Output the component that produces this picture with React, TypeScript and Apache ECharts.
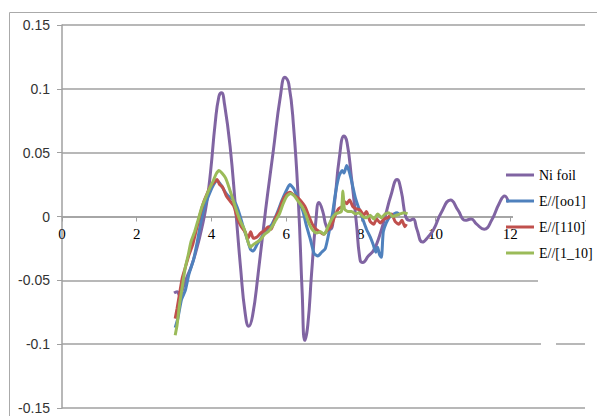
import React, { useEffect, useRef } from "react";
import * as echarts from "echarts";

const seriesNames = ["Ni foil", "E//[oo1]", "E//[110]", "E//[1_10]"];
const seriesColors = ["#8064A2", "#4F81BD", "#C0504D", "#9BBB59"];

const niK = [3.0, 3.08, 3.15, 3.25, 3.35, 3.45, 3.6, 3.75, 3.88, 3.98, 4.1, 4.2, 4.27, 4.35, 4.5, 4.65, 4.78, 4.9, 5.0, 5.1, 5.25, 5.45, 5.65, 5.85, 5.97, 6.07, 6.2, 6.33, 6.43, 6.5, 6.58, 6.68, 6.8, 6.88, 6.98, 7.08, 7.18, 7.3, 7.42, 7.55, 7.63, 7.75, 7.88, 7.98, 8.05, 8.2, 8.35, 8.5, 8.65, 8.8, 8.97, 9.08, 9.2, 9.3, 9.4, 9.5, 9.65, 9.8, 9.95, 10.15, 10.4, 10.6, 10.8, 10.95, 11.1, 11.3, 11.5, 11.7, 11.85, 11.95];
const niChi = [-0.06, -0.059, -0.062, -0.055, -0.047, -0.04, -0.026, -0.008, 0.012, 0.036, 0.073, 0.094, 0.097, 0.088, 0.055, 0.005, -0.04, -0.075, -0.086, -0.078, -0.045, 0.005, 0.05, 0.095, 0.109, 0.104, 0.07, 0.01, -0.06, -0.097, -0.085, -0.045, -0.002, 0.011, 0.004, -0.008, -0.01, 0.012, 0.045, 0.063, 0.058, 0.03, -0.005, -0.034, -0.036, -0.031, -0.026, -0.015, 0.0, 0.016, 0.029, 0.02, 0.0, -0.003, -0.002, -0.01, -0.02, -0.016, -0.01, 0.003, 0.013, 0.005, -0.003, -0.002, -0.006, -0.01, -0.003, 0.01, 0.016, 0.011];

const oo1K = [3.03, 3.1, 3.2, 3.3, 3.4, 3.52, 3.62, 3.72, 3.82, 3.95, 4.06, 4.15, 4.25, 4.35, 4.45, 4.55, 4.65, 4.75, 4.85, 4.95, 5.05, 5.12, 5.22, 5.35, 5.5, 5.62, 5.75, 5.88, 6.0, 6.1, 6.2, 6.32, 6.45, 6.55, 6.65, 6.75, 6.85, 6.95, 7.05, 7.15, 7.25, 7.33, 7.42, 7.5, 7.55, 7.62, 7.68, 7.75, 7.85, 7.95, 8.05, 8.15, 8.25, 8.33, 8.4, 8.45, 8.5, 8.55, 8.6, 8.68, 8.78, 8.88, 8.97, 9.05];
const oo1Chi = [-0.087, -0.08, -0.065, -0.058, -0.045, -0.034, -0.02, -0.004, 0.008, 0.018, 0.025, 0.028, 0.025, 0.02, 0.016, 0.014, 0.01, 0.002, -0.008, -0.017, -0.026, -0.027, -0.022, -0.016, -0.01, -0.006, 0.002, 0.012, 0.02, 0.025, 0.022, 0.014, 0.004, -0.008, -0.018, -0.029, -0.031, -0.028, -0.025, -0.012, 0.004, 0.02, 0.032, 0.036, 0.034, 0.04, 0.036, 0.028, 0.015, 0.006, -0.002, -0.01, -0.016, -0.022, -0.028, -0.024, -0.03, -0.032, -0.012, -0.005, 0.0, 0.002, 0.003, 0.001];

const k110K = [3.03, 3.08, 3.15, 3.22, 3.3, 3.4, 3.5, 3.6, 3.7, 3.8, 3.9, 3.98, 4.08, 4.15, 4.22, 4.3, 4.4, 4.5, 4.6, 4.7, 4.8, 4.9, 4.98, 5.05, 5.12, 5.22, 5.32, 5.42, 5.52, 5.6, 5.7, 5.8, 5.9, 6.0, 6.1, 6.2, 6.3, 6.4, 6.5, 6.6, 6.7, 6.8, 6.9, 7.0, 7.1, 7.2, 7.3, 7.4, 7.5, 7.55, 7.62, 7.7, 7.78, 7.88, 7.98, 8.08, 8.15, 8.25, 8.35, 8.42, 8.52, 8.62, 8.72, 8.82, 8.92, 9.02, 9.1, 9.18, 9.22];
const k110Chi = [-0.08, -0.072, -0.06, -0.048, -0.04, -0.03, -0.022, -0.01, 0.002, 0.012, 0.019, 0.024, 0.027, 0.029, 0.025, 0.023, 0.016, 0.012, 0.008, -0.002, -0.008, -0.012, -0.017, -0.012, -0.017, -0.016, -0.013, -0.011, -0.008, -0.01, -0.002, 0.004, 0.012, 0.017, 0.019, 0.017, 0.015, 0.012, 0.008, 0.001, -0.006, -0.01, -0.012, -0.014, -0.011, -0.008, 0.0, 0.006, 0.008, 0.012, 0.01, 0.013, 0.008, 0.006, 0.005, 0.001, 0.004, -0.004, -0.006, -0.002, -0.005, -0.002, -0.001, 0.002, -0.004, -0.006, -0.003, -0.008, -0.006];

const k1m10K = [3.03, 3.08, 3.15, 3.22, 3.3, 3.38, 3.45, 3.55, 3.65, 3.75, 3.85, 3.95, 4.05, 4.12, 4.2, 4.28, 4.38, 4.48, 4.58, 4.68, 4.78, 4.88, 4.96, 5.04, 5.12, 5.22, 5.32, 5.42, 5.52, 5.62, 5.72, 5.82, 5.92, 6.02, 6.12, 6.22, 6.32, 6.42, 6.52, 6.62, 6.72, 6.82, 6.92, 7.02, 7.12, 7.22, 7.32, 7.42, 7.48, 7.52, 7.56, 7.65, 7.75, 7.85, 7.95, 8.05, 8.15, 8.25, 8.35, 8.45, 8.55, 8.65, 8.75, 8.85, 8.95, 9.05, 9.15, 9.25];
const k1m10Chi = [-0.093, -0.085, -0.068, -0.055, -0.04, -0.03, -0.02, -0.012, -0.002, 0.008, 0.015, 0.022, 0.028, 0.033, 0.036, 0.034, 0.03, 0.022, 0.013, 0.004, -0.004, -0.01, -0.018, -0.024, -0.022, -0.02, -0.018, -0.014, -0.012, -0.008, -0.003, 0.002, 0.01, 0.016, 0.018, 0.016, 0.012, 0.008, 0.002, -0.006, -0.011, -0.013, -0.012, -0.014, -0.008, -0.002, 0.002, 0.003, 0.004, 0.02, 0.006, 0.004, 0.004, 0.002, 0.003, 0.0, -0.001, 0.001, -0.002, 0.002, -0.001, 0.002, 0.003, 0.0, 0.001, 0.002, 0.003, 0.002];

const xTicks = [0, 2, 4, 6, 8, 10, 12];

function zip(xs: number[], ys: number[]) {
  return xs.map((x, i) => [x, ys[i]]);
}

export default function App() {
  const ref = useRef<HTMLDivElement>(null);
  useEffect(() => {
    if (!ref.current) return;
    const chart = echarts.init(ref.current, undefined, { renderer: "svg" });
    const allData = [zip(niK, niChi), zip(oo1K, oo1Chi), zip(k110K, k110Chi), zip(k1m10K, k1m10Chi)];
    const gridColor = "#a0a0a0";
    const gridTop = 25;
    const gridBottom = 8;
    const plotH = 416 - gridTop - gridBottom;
    const yMin = -0.15;
    const yMax = 0.15;
    // place the x axis where y = 0 (half way down the plot)
    const zeroOffset = -plotH * (0 - yMin) / (yMax - yMin);
    chart.setOption({
      animation: false,
      backgroundColor: "#ffffff",
      grid: { left: 62, right: 12, top: gridTop, bottom: gridBottom, containLabel: false, outerBoundsMode: "none" },
      xAxis: {
        type: "value",
        min: 0,
        max: 14,
        interval: 2,
        position: "bottom",
        offset: zeroOffset,
        axisLine: { onZero: false, lineStyle: { color: gridColor, width: 1.5 } },
        axisTick: { show: true, inside: false, length: 5, lineStyle: { color: gridColor } },
        axisLabel: {
          margin: 10,
          fontFamily: "Liberation Serif",
          fontSize: 15,
          color: "#000",
          formatter: (v: number) => (xTicks.indexOf(v) >= 0 ? String(v) : ""),
        },
        splitLine: { show: false },
      },
      yAxis: {
        type: "value",
        min: yMin,
        max: yMax,
        interval: 0.05,
        axisLine: { show: true, lineStyle: { color: gridColor, width: 1.5 } },
        axisTick: { show: true, length: 5, lineStyle: { color: gridColor } },
        axisLabel: {
          margin: 12,
          fontFamily: "Liberation Sans",
          fontSize: 14,
          color: "#333",
          formatter: (v: number) => String(Math.round(v * 100) / 100),
        },
        splitLine: { show: true, lineStyle: { color: gridColor, width: 1.5 } },
      },
      legend: {
        orient: "vertical",
        left: 506,
        top: 168,
        itemWidth: 28,
        itemHeight: 3,
        itemGap: 12,
        padding: 0,
        icon: "rect",
        textStyle: { fontFamily: "Liberation Serif", fontSize: 14, color: "#000" },
        data: seriesNames,
      },
      graphic: [
        { type: "rect", z: 1, shape: { x: 9.5, y: 12.5, width: 600, height: 420 }, style: { fill: "none", stroke: "#aaaaaa", lineWidth: 1 } },
        { type: "rect", z: 1, shape: { x: 513, y: 211, width: 84, height: 9 }, style: { fill: "#ffffff" } },
        { type: "rect", z: 1, shape: { x: 538, y: 275, width: 59, height: 9 }, style: { fill: "#ffffff" } },
        { type: "rect", z: 1, shape: { x: 541, y: 339, width: 15, height: 9 }, style: { fill: "#ffffff" } },
      ],
      series: seriesNames.map((name, i) => ({
        name,
        type: "line",
        data: allData[i],
        symbol: "none",
        smooth: i === 0 ? 0.5 : 0.2,
        lineStyle: { color: seriesColors[i], width: 3 },
        itemStyle: { color: seriesColors[i] },
      })),
    });
    return () => chart.dispose();
  }, []);
  return <div ref={ref} style={{ width: 597, height: 416, position: "absolute", left: 0, top: 0 }} />;
}
